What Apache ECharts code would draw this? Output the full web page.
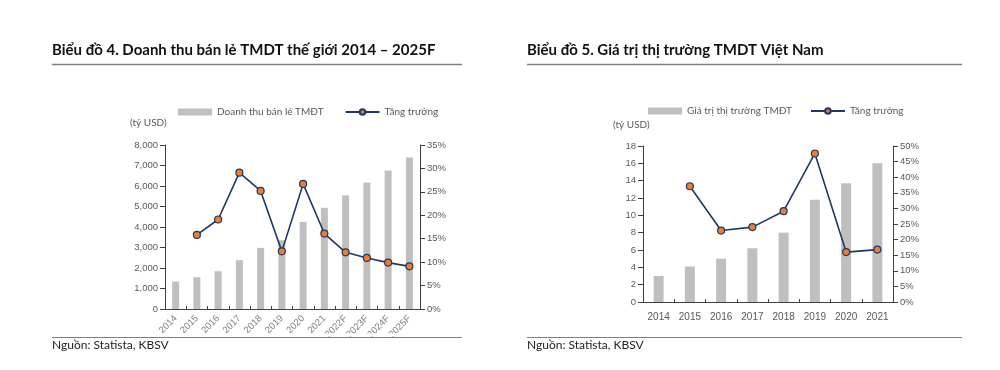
<!DOCTYPE html>
<html>
<head>
<meta charset="utf-8">
<script src="https://cdn.jsdelivr.net/npm/echarts@6/dist/echarts.min.js"></script>
<style>
html,body{margin:0;padding:0;background:#fff;}
#c{width:1000px;height:370px;}
</style>
</head>
<body>
<div id="c"></div>
<script>
// Chart 4: world e-commerce retail revenue
const years1 = ['2014','2015','2016','2017','2018','2019','2020','2021','2022F','2023F','2024F','2025F'];
const revenue1 = [1336, 1548, 1845, 2382, 2982, 3354, 4248, 4938, 5542, 6169, 6761, 7391];
const growth1 = [null, 15.8, 19.1, 29.1, 25.2, 12.3, 26.7, 16.1, 12.1, 10.9, 9.9, 9.1];
// Chart 5: Vietnam e-commerce market value
const years2 = ['2014','2015','2016','2017','2018','2019','2020','2021'];
const value2 = [3.0, 4.1, 5.0, 6.2, 8.0, 11.8, 13.7, 16.0];
const growth2 = [null, 37.1, 22.9, 24.0, 29.1, 47.6, 16.0, 16.8];

const title1 = 'Biểu đồ 4. Doanh thu bán lẻ TMDT thế giới 2014 – 2025F';
const title2 = 'Biểu đồ 5. Giá trị thị trường TMDT Việt Nam';
const barName1 = 'Doanh thu bán lẻ TMĐT';
const barName2 = 'Giá trị thị trường TMĐT';
const lineName = 'Tăng trưởng';
const unitLabel = '(tỷ USD)';
const sourceText = 'Nguồn: Statista, KBSV';

const AX = '#404040', TXT = '#595959', BAR = '#BFBFBF', LINE = '#1F3864', DOT = '#ED7D31';
const lblFont = {color: TXT, fontFamily: 'Liberation Sans', fontSize: 9.5};

function valAxis(grid, min, max, interval, fmt, pos) {
  return {
    type: 'value', gridIndex: grid, min: min, max: max, interval: interval, position: pos,
    splitLine: {show: false},
    axisLine: {show: true, lineStyle: {color: AX, width: 1}},
    axisTick: {show: true, length: 5, lineStyle: {color: AX}},
    axisLabel: Object.assign({formatter: fmt, margin: 7}, lblFont)
  };
}

const chart = echarts.init(document.getElementById('c'), null, {renderer: 'canvas'});
chart.setOption({
  animation: false,
  backgroundColor: '#fff',
  grid: [
    {left: 165, width: 255, top: 145, height: 164},
    {left: 643, width: 250, top: 146, height: 156}
  ],
  legend: [
    {left: 178, top: 107, padding: 0, itemWidth: 34, itemHeight: 7, itemGap: 21,
     textStyle: {color: TXT, fontFamily: 'Lato', fontSize: 10},
     data: [{name: barName1, icon: 'rect'}, {name: lineName + ' '}]},
    {left: 648, top: 106, padding: 0, itemWidth: 34, itemHeight: 7, itemGap: 18,
     textStyle: {color: TXT, fontFamily: 'Lato', fontSize: 10},
     data: [{name: barName2, icon: 'rect'}, {name: lineName}]}
  ],
  xAxis: [
    {type: 'category', gridIndex: 0, data: years1,
     axisLine: {lineStyle: {color: AX}},
     axisTick: {show: true, inside: true, length: 3, lineStyle: {color: AX}},
     axisLabel: Object.assign({rotate: 45, margin: 8, interval: 0}, lblFont, {color: '#7f7f7f'})},
    {type: 'category', gridIndex: 1, data: years2,
     axisLine: {lineStyle: {color: AX}},
     axisTick: {show: true, inside: true, length: 3, lineStyle: {color: AX}},
     axisLabel: Object.assign({margin: 10, interval: 0}, lblFont, {fontSize: 10})}
  ],
  yAxis: [
    valAxis(0, 0, 8000, 1000, v => v.toLocaleString('en-US'), 'left'),
    valAxis(0, 0, 35, 5, '{value}%', 'right'),
    valAxis(1, 0, 18, 2, '{value}', 'left'),
    valAxis(1, 0, 50, 5, '{value}%', 'right')
  ],
  series: [
    {name: barName1, type: 'bar', xAxisIndex: 0, yAxisIndex: 0, data: revenue1, barWidth: 7,
     itemStyle: {color: BAR}},
    {name: lineName + ' ', type: 'line', xAxisIndex: 0, yAxisIndex: 1, data: growth1,
     symbol: 'circle', symbolSize: 7, lineStyle: {color: LINE, width: 1.6},
     itemStyle: {color: DOT, borderColor: LINE, borderWidth: 1.2}, z: 5},
    {name: barName2, type: 'bar', xAxisIndex: 1, yAxisIndex: 2, data: value2, barWidth: 10,
     itemStyle: {color: BAR}},
    {name: lineName, type: 'line', xAxisIndex: 1, yAxisIndex: 3, data: growth2,
     symbol: 'circle', symbolSize: 7, lineStyle: {color: LINE, width: 1.6},
     itemStyle: {color: DOT, borderColor: LINE, borderWidth: 1.2}, z: 5}
  ],
  graphic: [
    {type: 'text', left: 52, top: 43, style: {text: title1, fill: '#111', font: 'bold 15px Lato'}},
    {type: 'line', shape: {x1: 52, y1: 64.5, x2: 462, y2: 64.5}, style: {stroke: '#7f7f7f', lineWidth: 1.5}},
    {type: 'text', left: 527, top: 43, style: {text: title2, fill: '#111', font: 'bold 15px Lato'}},
    {type: 'line', shape: {x1: 527, y1: 64.5, x2: 962, y2: 64.5}, style: {stroke: '#7f7f7f', lineWidth: 1.5}},
    {type: 'text', left: 130, top: 118, style: {text: unitLabel, fill: TXT, font: '10px Lato'}},
    {type: 'text', left: 613, top: 120, style: {text: unitLabel, fill: TXT, font: '10px Lato'}},
    {type: 'rect', shape: {x: 130, y: 333.5, width: 320, height: 3}, style: {fill: '#fff'}, z: 100},
    {type: 'line', shape: {x1: 52, y1: 337.5, x2: 462, y2: 337.5}, style: {stroke: '#7f7f7f', lineWidth: 1.2}, z: 101},
    {type: 'line', shape: {x1: 527, y1: 337.5, x2: 962, y2: 337.5}, style: {stroke: '#7f7f7f', lineWidth: 1.2}, z: 101},
    {type: 'text', left: 52, top: 339, style: {text: sourceText, fill: '#222', font: '12px Lato'}},
    {type: 'text', left: 527, top: 339, style: {text: sourceText, fill: '#222', font: '12px Lato'}}
  ]
});
</script>
</body>
</html>
